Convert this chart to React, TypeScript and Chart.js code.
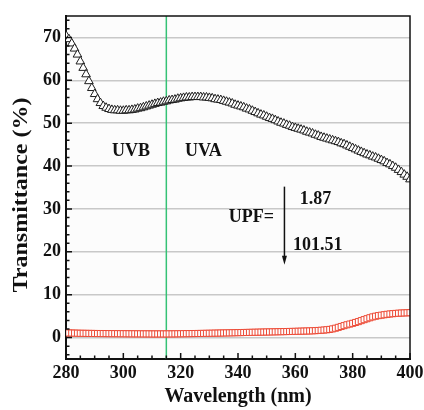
import { useEffect, useRef } from "react";
import { Chart, registerables } from "chart.js";

Chart.register(...registerables);

const wavelengths = [
  280, 281, 282, 283, 284, 285, 286, 287, 288, 289,
  290, 291, 292, 293, 294, 295, 296, 297, 298, 299,
  300, 301, 302, 303, 304, 305, 306, 307, 308, 309,
  310, 311, 312, 313, 314, 315, 316, 317, 318, 319,
  320, 321, 322, 323, 324, 325, 326, 327, 328, 329,
  330, 331, 332, 333, 334, 335, 336, 337, 338, 339,
  340, 341, 342, 343, 344, 345, 346, 347, 348, 349,
  350, 351, 352, 353, 354, 355, 356, 357, 358, 359,
  360, 361, 362, 363, 364, 365, 366, 367, 368, 369,
  370, 371, 372, 373, 374, 375, 376, 377, 378, 379,
  380, 381, 382, 383, 384, 385, 386, 387, 388, 389,
  390, 391, 392, 393, 394, 395, 396, 397, 398, 399,
  400,
];

const untreated = [
  70.4, 69.6, 68.6, 67.4, 66.0, 64.4, 62.9, 61.4, 59.8, 58.2,
  56.8, 55.6, 54.7, 54.0, 53.6, 53.3, 53.1, 53.0, 53.0, 52.9,
  52.9, 53.0, 53.0, 53.1, 53.2, 53.4, 53.5, 53.7, 53.9, 54.1,
  54.3, 54.5, 54.7, 54.8, 55.0, 55.1, 55.3, 55.4, 55.5, 55.7,
  55.8, 55.9, 56.0, 56.0, 56.1, 56.1, 56.1, 56.1, 56.0, 56.0,
  55.9, 55.8, 55.6, 55.5, 55.4, 55.2, 55.0, 54.8, 54.6, 54.3,
  54.1, 53.9, 53.7, 53.4, 53.2, 52.9, 52.6, 52.3, 52.0, 51.8,
  51.5, 51.2, 51.0, 50.7, 50.4, 50.1, 49.9, 49.6, 49.4, 49.1,
  48.9, 48.7, 48.5, 48.3, 48.0, 47.8, 47.6, 47.3, 47.1, 46.8,
  46.6, 46.4, 46.2, 46.0, 45.8, 45.6, 45.3, 45.1, 44.8, 44.5,
  44.2, 43.9, 43.6, 43.3, 43.0, 42.7, 42.5, 42.2, 42.0, 41.7,
  41.4, 41.1, 40.7, 40.4, 40.0, 39.6, 39.1, 38.6, 38.0, 37.5,
  36.9,
];

const treated = [
  1.10, 1.08, 1.06, 1.04, 1.02, 1.00, 0.99, 0.98, 0.97, 0.96,
  0.95, 0.94, 0.94, 0.93, 0.93, 0.92, 0.92, 0.91, 0.91, 0.90,
  0.90, 0.89, 0.89, 0.88, 0.88, 0.87, 0.87, 0.86, 0.86, 0.86,
  0.85, 0.85, 0.85, 0.85, 0.85, 0.85, 0.86, 0.86, 0.87, 0.88,
  0.89, 0.90, 0.91, 0.92, 0.93, 0.94, 0.95, 0.96, 0.97, 0.99,
  1.00, 1.01, 1.03, 1.04, 1.06, 1.07, 1.09, 1.10, 1.12, 1.13,
  1.15, 1.16, 1.18, 1.19, 1.21, 1.22, 1.24, 1.25, 1.27, 1.28,
  1.30, 1.31, 1.33, 1.34, 1.36, 1.37, 1.39, 1.40, 1.42, 1.43,
  1.45, 1.47, 1.49, 1.51, 1.53, 1.55, 1.58, 1.61, 1.65, 1.70,
  1.75, 1.82, 1.90, 2.02, 2.18, 2.38, 2.58, 2.78, 2.98, 3.15,
  3.32, 3.52, 3.72, 3.95, 4.18, 4.40, 4.62, 4.82, 4.98, 5.12,
  5.22, 5.32, 5.42, 5.50, 5.57, 5.63, 5.68, 5.72, 5.75, 5.78,
  5.80,
];

const xTickValues = [280, 300, 320, 340, 360, 380, 400];
const yTickValues = [0, 10, 20, 30, 40, 50, 60, 70];
const regionBoundary = 315;
const regionLabels = ["UVB", "UVA"];
const upfLabel = "UPF=";
const upfBefore = "1.87";
const upfAfter = "101.51";
const xTitle = "Wavelength (nm)";
const yTitle = "Transmittance (%)";

const SERIF = "'Liberation Serif', 'Times New Roman', serif";

const overlayPlugin = {
  id: "overlay",
  beforeDraw(chart: any) {
    const { ctx, chartArea } = chart;
    ctx.save();
    ctx.fillStyle = "#fcfcfc";
    ctx.fillRect(chartArea.left, chartArea.top, chartArea.right - chartArea.left, chartArea.bottom - chartArea.top);
    ctx.restore();
  },
  beforeDatasetsDraw(chart: any) {
    const { ctx, chartArea, scales } = chart;
    const gx = scales.x.getPixelForValue(regionBoundary);
    ctx.save();
    ctx.strokeStyle = "#35c275";
    ctx.lineWidth = 1.5;
    ctx.beginPath();
    ctx.moveTo(gx, chartArea.top);
    ctx.lineTo(gx, chartArea.bottom);
    ctx.stroke();
    ctx.restore();
  },
  afterDraw(chart: any) {
    const { ctx, chartArea, scales } = chart;
    const x = scales.x;
    const y = scales.y;
    ctx.save();
    // frame top & right
    ctx.strokeStyle = "#111";
    ctx.lineWidth = 1.5;
    ctx.beginPath();
    ctx.moveTo(chartArea.left, chartArea.top);
    ctx.lineTo(chartArea.right, chartArea.top);
    ctx.lineTo(chartArea.right, chartArea.bottom);
    ctx.stroke();

    // tick marks (inward)
    ctx.lineWidth = 1.5;
    ctx.strokeStyle = "#111";
    ctx.beginPath();
    for (let v = x.min; v <= x.max; v += 5) {
      const px = x.getPixelForValue(v);
      const len = v % 20 === 0 ? 6 : 3.5;
      ctx.moveTo(px, chartArea.bottom);
      ctx.lineTo(px, chartArea.bottom - len);
    }
    for (let v = -4; v <= 74; v += 2) {
      const py = y.getPixelForValue(v);
      const len = v % 10 === 0 ? 6 : 3.5;
      ctx.moveTo(chartArea.left, py);
      ctx.lineTo(chartArea.left + len, py);
    }
    ctx.stroke();

    // y axis title (stretched along its length like the reference)
    ctx.fillStyle = "#111";
    ctx.save();
    ctx.translate(22, 195);
    ctx.rotate(-Math.PI / 2);
    ctx.scale(1.2, 1);
    ctx.font = `bold 20px ${SERIF}`;
    ctx.textAlign = "center";
    ctx.textBaseline = "middle";
    ctx.fillText(yTitle, 0, 0);
    ctx.restore();

    // annotations
    ctx.font = `bold 18px ${SERIF}`;
    ctx.textAlign = "center";
    ctx.textBaseline = "middle";
    ctx.fillText(regionLabels[0], x.getPixelForValue(302.7), y.getPixelForValue(43.4));
    ctx.fillText(regionLabels[1], x.getPixelForValue(327.9), y.getPixelForValue(43.4));
    ctx.fillText(upfLabel, x.getPixelForValue(344.7), y.getPixelForValue(28));
    ctx.fillText(upfBefore, x.getPixelForValue(367), y.getPixelForValue(32.2));
    ctx.fillText(upfAfter, x.getPixelForValue(367.8), y.getPixelForValue(21.4));

    // arrow
    const ax = x.getPixelForValue(356.2);
    const ay0 = y.getPixelForValue(35.2);
    const ay1 = y.getPixelForValue(17);
    ctx.strokeStyle = "#111";
    ctx.lineWidth = 1.5;
    ctx.beginPath();
    ctx.moveTo(ax, ay0);
    ctx.lineTo(ax, ay1 - 6);
    ctx.stroke();
    ctx.beginPath();
    ctx.moveTo(ax, ay1);
    ctx.lineTo(ax - 2.5, ay1 - 9);
    ctx.lineTo(ax + 2.5, ay1 - 9);
    ctx.closePath();
    ctx.fill();
    ctx.restore();
  },
};

export default function App() {
  const canvasRef = useRef<HTMLCanvasElement | null>(null);

  useEffect(() => {
    if (!canvasRef.current) return;
    const chart = new Chart(canvasRef.current, {
      type: "scatter",
      data: {
        datasets: [
          {
            label: "Untreated",
            data: wavelengths.map((w, i) => ({ x: w, y: untreated[i] })),
            pointStyle: "triangle",
            pointRadius: 5,
            borderColor: "#1e1e1e",
            backgroundColor: "#ffffff",
            borderWidth: 1,
            showLine: false,
          },
          {
            label: "Treated",
            data: wavelengths.map((w, i) => ({ x: w, y: treated[i] })),
            pointStyle: "rect",
            pointRadius: 4.3,
            borderColor: "#ec4a36",
            backgroundColor: "#ffffff",
            borderWidth: 1,
            showLine: false,
          },
        ],
      },
      options: {
        responsive: false,
        maintainAspectRatio: false,
        animation: false,
        events: [],
        layout: { padding: { top: 16, right: 14, left: 0, bottom: 0 } },
        plugins: {
          legend: { display: false },
          tooltip: { enabled: false },
        },
        scales: {
          x: {
            type: "linear",
            min: 280,
            max: 400,
            afterBuildTicks: (scale: any) => {
              scale.ticks = xTickValues.map((v) => ({ value: v }));
            },
            afterFit: (scale: any) => {
              scale.height = 51;
              scale.paddingLeft = 0;
              scale.paddingRight = 0;
            },
            ticks: {
              color: "#111",
              font: { family: SERIF, size: 18, weight: "bold" },
              padding: 4,
              maxRotation: 0,
              autoSkip: false,
            },
            grid: { display: false, drawTicks: false },
            border: { display: true, color: "#111", width: 2 },
            title: {
              display: true,
              text: xTitle,
              color: "#111",
              font: { family: SERIF, size: 20, weight: "bold" },
              padding: { top: 0, bottom: 1 },
            },
          },
          y: {
            type: "linear",
            min: -5,
            max: 75,
            afterBuildTicks: (scale: any) => {
              scale.ticks = yTickValues.map((v) => ({ value: v }));
            },
            afterFit: (scale: any) => {
              scale.width = 66;
              scale.paddingTop = 0;
              scale.paddingBottom = 0;
            },
            ticks: {
              color: "#111",
              font: { family: SERIF, size: 18, weight: "bold" },
              padding: 5,
              autoSkip: false,
            },
            grid: { display: true, drawTicks: false, color: "#c8c8c8", lineWidth: 1.5 },
            border: { display: true, color: "#111", width: 2 },
          },
        },
      },
      plugins: [overlayPlugin],
    });
    return () => chart.destroy();
  }, []);

  return (
    <div style={{ position: "fixed", left: 0, top: 0, width: 424, height: 410, background: "#fff" }}>
      <canvas ref={canvasRef} width={424} height={410} style={{ display: "block" }} />
    </div>
  );
}
